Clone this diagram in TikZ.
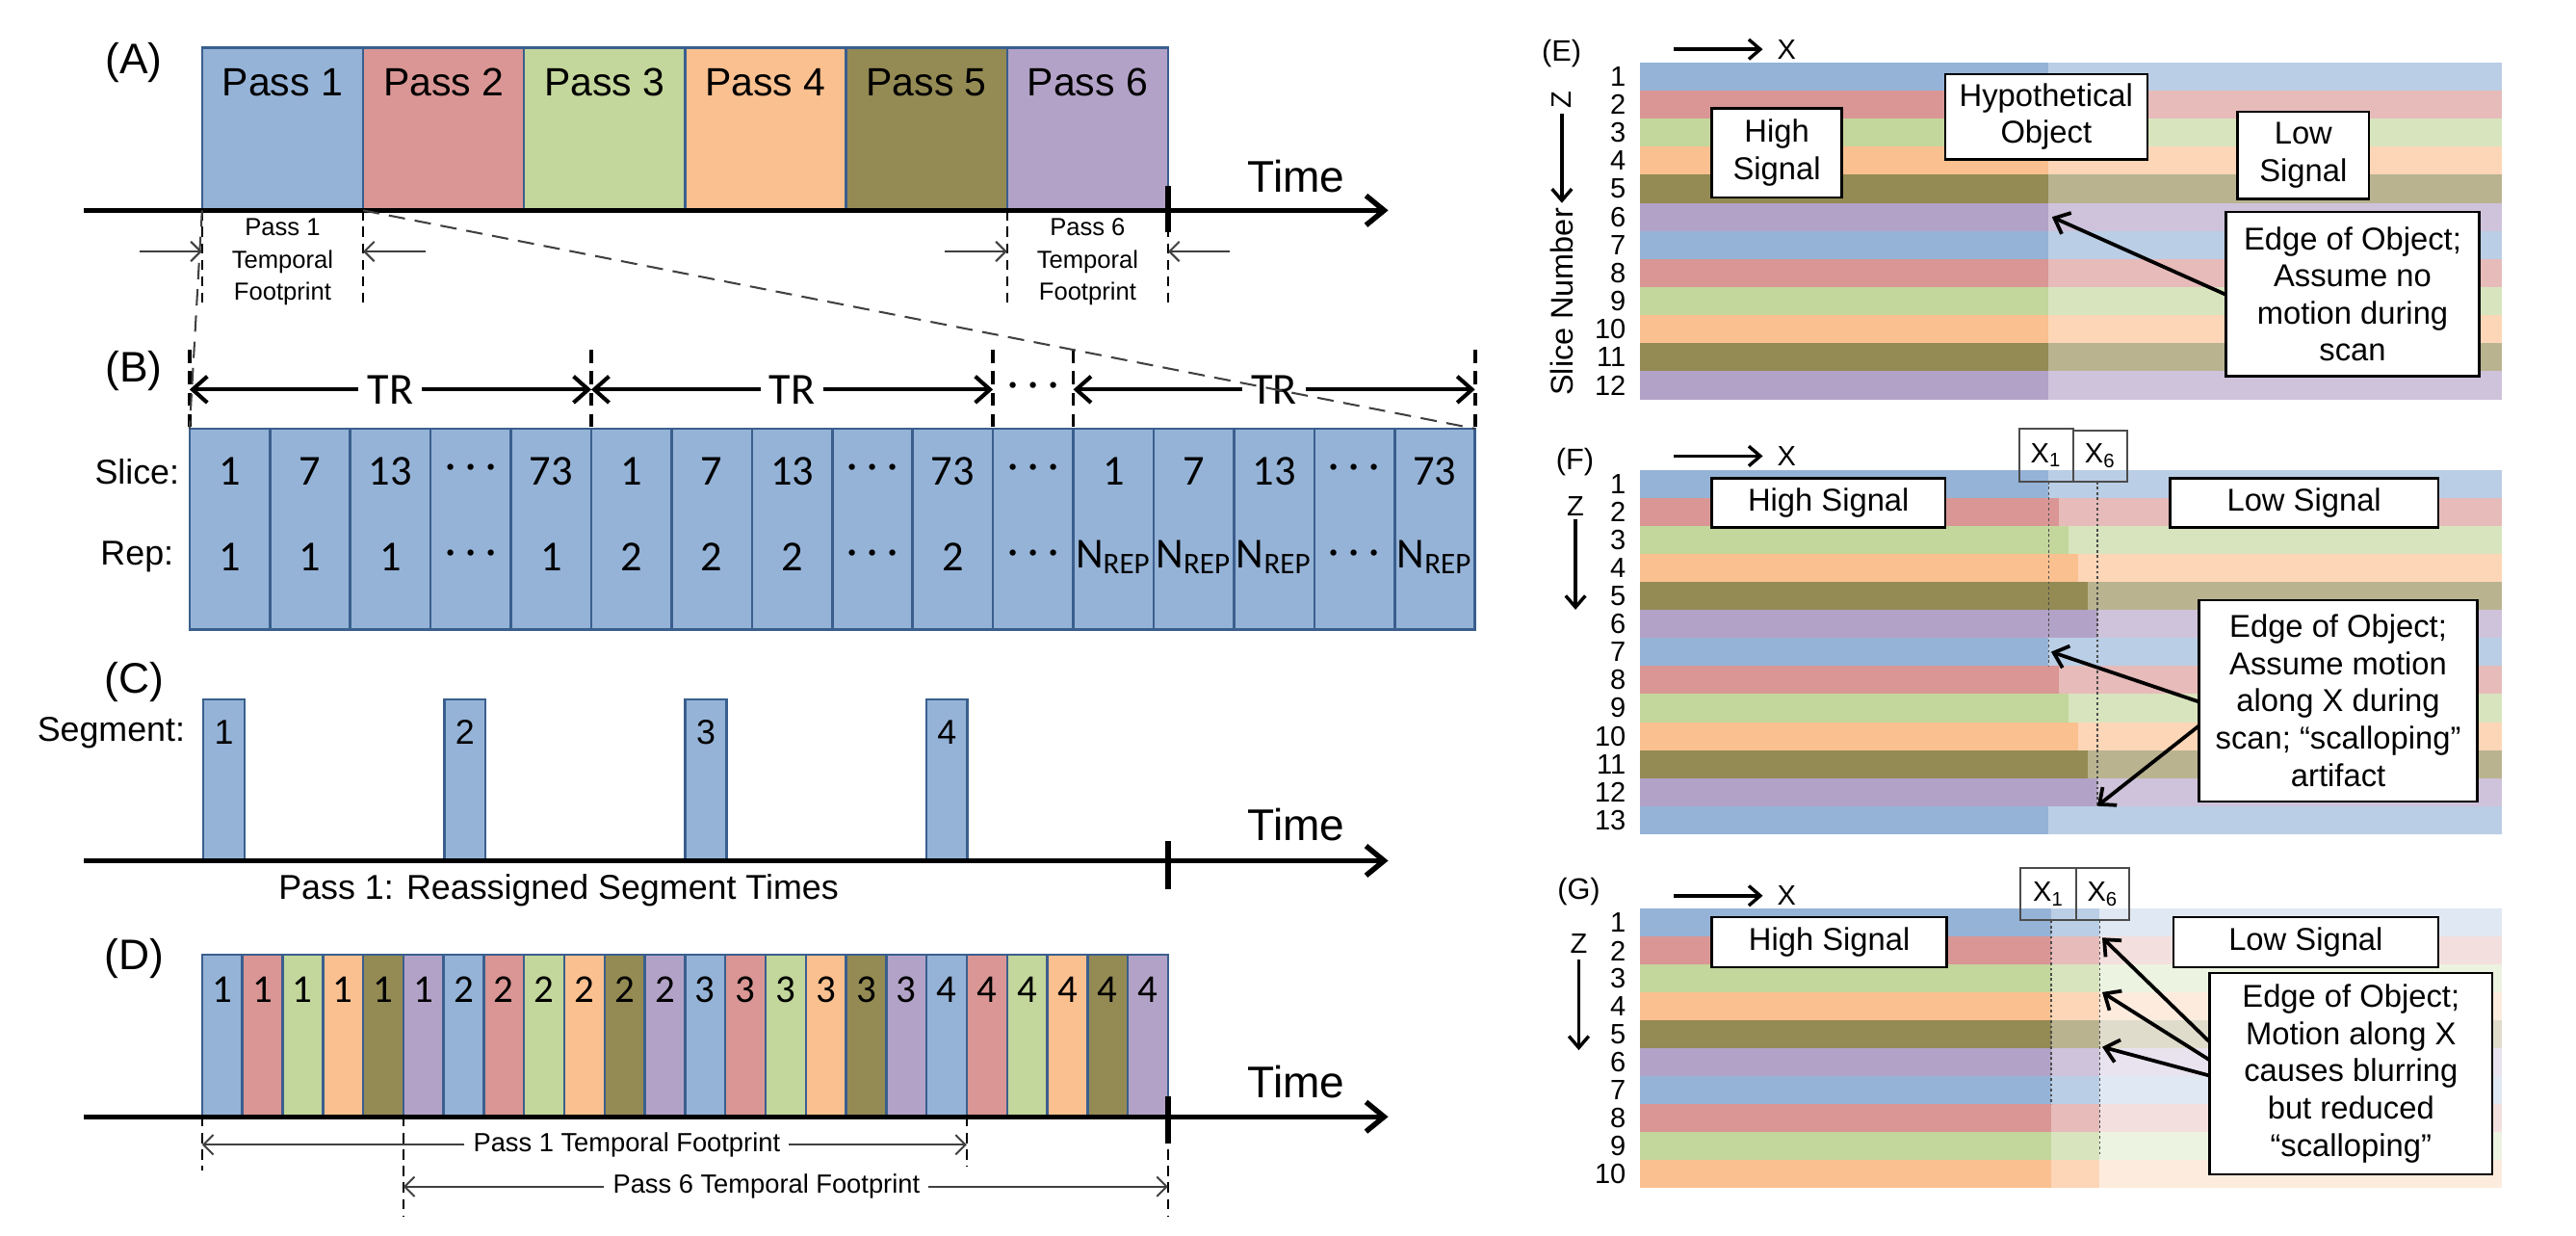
\documentclass[tikz,border=0pt]{standalone}
\usepackage{fontspec}
\setmainfont{Liberation Sans}
\newfontfamily\calib{Carlito}
\usetikzlibrary{arrows.meta}
\definecolor{cBlue}{HTML}{95B3D7}
\definecolor{cRed}{HTML}{D99694}
\definecolor{cGreen}{HTML}{C3D69B}
\definecolor{cOrange}{HTML}{FAC090}
\definecolor{cOlive}{HTML}{948A54}
\definecolor{cPurple}{HTML}{B3A2C7}
\definecolor{bdr}{HTML}{3A5F8E}
\definecolor{fpgray}{HTML}{404040}
\colorlet{col0}{cBlue}
\colorlet{col1}{cRed}
\colorlet{col2}{cGreen}
\colorlet{col3}{cOrange}
\colorlet{col4}{cOlive}
\colorlet{col5}{cPurple}
\newcommand\fsz[2]{\fontsize{#1}{#2}\selectfont}
\newcommand\dts{·\hspace{0.22em}·\hspace{0.22em}·}
\newcommand\nrep{N\textsubscript{REP}}
\tikzset{
  panellbl/.style={font=\fsz{13}{15}, inner sep=0pt},
  rlbl/.style={font=\fsz{9}{11}, inner sep=0pt},
  passtxt/.style={font=\fsz{12}{14}, inner sep=0pt},
  timetxt/.style={font=\fsz{13.5}{16}, inner sep=0pt},
  fptxt/.style={font=\fsz{7.5}{9.8}, align=center, inner sep=0pt},
  fptxtD/.style={font=\fsz{8}{10}, inner sep=2.5pt},
  segtxt/.style={font=\fsz{10.5}{12.6}, inner sep=0pt},
  segnum/.style={font=\fsz{10.5}{12}, inner sep=0pt},
  dnum/.style={font=\calib\fsz{12}{14}, inner sep=0pt},
  cal/.style={font=\calib\fsz{13}{15}, inner sep=0pt},
  trtxt/.style={font=\calib\fsz{13.5}{15}, inner sep=2.5pt},
  rnum/.style={font=\fsz{8.5}{10}, inner sep=0pt},
  rbox/.style={draw=black, line width=0.7pt, fill=white, align=center,
    font=\fsz{9.6}{11.3}, inner sep=0pt},
  xbox/.style={draw=black!70, line width=0.6pt, font=\fsz{8.5}{10}, inner sep=0pt},
  cellbox/.style={draw=bdr, line width=0.75pt},
  axisline/.style={line width=1.6pt, -{Straight Barb[length=5.5pt,width=9pt]}},
  ticklin/.style={line width=1.6pt},
  fpdash/.style={dash pattern=on 3pt off 2pt, line width=0.7pt},
  brdash/.style={dash pattern=on 4pt off 2.5pt, line width=1.1pt},
  zoomdash/.style={dash pattern=on 5pt off 3pt, line width=0.6pt, draw=black!75},
  fparrow/.style={draw=fpgray, line width=0.6pt, -{Straight Barb[length=3pt,width=6pt]}},
  trarrow/.style={line width=1.2pt, -{Straight Barb[length=4.5pt,width=8pt]}},
  rarrow/.style={line width=1.1pt, -{Straight Barb[length=4pt,width=7pt]}},
  xarrow/.style={line width=1pt, -{Straight Barb[length=3.5pt,width=6pt]}},
  dotl/.style={draw=black!70, line width=0.4pt, dash pattern=on 0.8pt off 0.8pt},
}
\begin{document}
\begin{tikzpicture}[x=0.5pt,y=-0.5pt]
\useasboundingbox (0,0) rectangle (1568,751.5);
% ================= (A)
\node[panellbl] (labA) at (81.5,38) {(A)};
\foreach \c [count=\i] in {cBlue,cRed,cGreen,cOrange,cOlive,cPurple}{
  \pgfmathsetmacro\xl{123+(\i-1)*98}
  \draw[cellbox, fill=\c] (\xl,29) rectangle ++(98,99);
  \node[passtxt] (pass\i) at (\xl+49,50) {Pass \i};
}
\coordinate (axAs) at (51,128);
\coordinate (axAe) at (845,128);
\draw[axisline] (axAs) -- (axAe);
\draw[ticklin] (711,113) -- (711,141);
\node[timetxt] (timeA) at (789,107.5) {Time};
\foreach \x in {123,221,613,711} \draw[fpdash] (\x,128) -- (\x,186);
\node[fptxt] (fpA1) at (172,159.5) {Pass 1\\Temporal\\Footprint};
\node[fptxt] (fpA6) at (662,159.5) {Pass 6\\Temporal\\Footprint};
\coordinate (a1s) at (85,153);   \coordinate (a1e) at (123,153);
\coordinate (a2s) at (259,153);  \coordinate (a2e) at (221,153);
\coordinate (a3s) at (575,153);  \coordinate (a3e) at (613,153);
\coordinate (a4s) at (748.5,153);\coordinate (a4e) at (711,153);
\draw[fparrow] (a1s) -- (a1e);
\draw[fparrow] (a2s) -- (a2e);
\draw[fparrow] (a3s) -- (a3e);
\draw[fparrow] (a4s) -- (a4e);
% ================= (B)
\node[panellbl] (labB) at (81.5,225.8) {(B)};
\foreach \i in {0,...,15}{
  \draw[cellbox, fill=cBlue] ({115.4+\i*48.9},260.8) rectangle ({115.4+(\i+1)*48.9},383);
}
\foreach \s [count=\i from 0] in {1,7,13,\dts,73,1,7,13,\dts,73,\dts,1,7,13,\dts,73}{
  \node[cal] (sl\i) at ({139.85+\i*48.9},287) {\s};
}
\foreach \s [count=\i from 0] in {1,1,1,\dts,1,2,2,2,\dts,2,\dts,\nrep,\nrep,\nrep,\dts,\nrep}{
  \node[cal] (rp\i) at ({139.85+\i*48.9},339) {\s};
}
\node[segtxt, anchor=east] (slcL) at (109.5,287) {Slice:};
\node[segtxt, anchor=east] (repL) at (106,339) {Rep:};
\foreach \x [count=\i] in {115.4,359.9,604.4,653.3,897.8}{
  \coordinate (bt\i) at (\x,237);
  \draw[brdash] (\x,212.9) -- (\x,260.8);
}
\node[trtxt] (tr1) at (237.65,237) {TR};
\node[trtxt] (tr2) at (482.15,237) {TR};
\node[trtxt] (tr3) at (775.55,237) {TR};
\node[cal] (bdots) at (628.85,237) {\dts};
\draw[trarrow] (tr1) -- (bt1);
\draw[trarrow] (tr1) -- (bt2);
\draw[trarrow] (tr2) -- (bt2);
\draw[trarrow] (tr2) -- (bt3);
\draw[trarrow] (tr3) -- (bt4);
\draw[trarrow] (tr3) -- (bt5);
% zoom lines
\coordinate (zA1) at (221,128);
\coordinate (zB1) at (897.8,260.8);
\coordinate (zA0) at (123,128);
\coordinate (zB0) at (115.4,260.8);
\draw[zoomdash] (zA1) -- (zB1);
\draw[zoomdash] (zA0) -- (zB0);
% ================= (C)
\node[panellbl] (labC) at (81.5,414.8) {(C)};
\node[segtxt, anchor=east] (segL) at (113,446) {Segment:};
\foreach \x [count=\i] in {123.8,270.5,417.2,563.9}{
  \draw[cellbox, fill=cBlue] (\x,425.6) rectangle ++(25,98.1);
  \node[segnum] (seg\i) at (\x+12.5,445.5) {\i};
}
\coordinate (axCs) at (51,523.7);
\coordinate (axCe) at (845,523.7);
\draw[axisline] (axCs) -- (axCe);
\draw[ticklin] (711,512) -- (711,541);
\node[timetxt] (timeC) at (789,502) {Time};
\node[segtxt] (reass) at (340,542) {Pass 1: Reassigned Segment Times};
% ================= (D)
\node[panellbl] (labD) at (81.5,583) {(D)};
\foreach \i in {1,...,24}{
  \pgfmathtruncatemacro\k{mod(\i-1,6)}
  \pgfmathtruncatemacro\n{div(\i-1,6)+1}
  \pgfmathsetmacro\xl{123+(\i-1)*24.5}
  \draw[cellbox, fill=col\k] (\xl,581) rectangle ++(24.5,98.5);
  \node[dnum] (dn\i) at (\xl+12.25,602) {\n};
}
\coordinate (axDs) at (51,679.5);
\coordinate (axDe) at (845,679.5);
\draw[axisline] (axDs) -- (axDe);
\draw[ticklin] (711,667) -- (711,696);
\node[timetxt] (timeD) at (789,658) {Time};
\draw[fpdash] (123,679.5) -- (123,712);
\draw[fpdash] (245.5,679.5) -- (245.5,740);
\draw[fpdash] (588.5,679.5) -- (588.5,710);
\draw[fpdash] (711,679.5) -- (711,740);
\node[fptxtD] (fpD1) at (381.5,696.5) {Pass 1 Temporal Footprint};
\node[fptxtD] (fpD6) at (466.5,722) {Pass 6 Temporal Footprint};
\coordinate (d1l) at (123,696.5);
\coordinate (d1r) at (588.5,696.5);
\coordinate (d6l) at (245.5,722);
\coordinate (d6r) at (711,722);
\draw[fparrow] (fpD1) -- (d1l);
\draw[fparrow] (fpD1) -- (d1r);
\draw[fparrow] (fpD6) -- (d6l);
\draw[fparrow] (fpD6) -- (d6r);
% ================= (E)
\foreach \i in {1,...,12}{
  \pgfmathtruncatemacro\k{mod(\i-1,6)}
  \pgfmathsetmacro\yt{38+(\i-1)*17.083}
  \pgfmathsetmacro\yb{38+\i*17.083}
  \fill[col\k] (998,\yt) rectangle (1247,\yb);
  \fill[col\k!65!white] (1247,\yt) rectangle (1523,\yb);
  \node[rnum, anchor=east] (En\i) at (990,{(\yt+\yb)/2}) {\i};
}
\node[rlbl] (labE) at (950.5,32.7) {(E)};
\coordinate (eXs) at (1019,30); \coordinate (eXe) at (1073,30);
\draw[xarrow] (eXs) -- (eXe);
\node[rnum] (eX) at (1087.5,30) {X};
\node[rnum, rotate=90] (eZ) at (950.7,60.6) {Z};
\coordinate (eZs) at (950.7,69.4); \coordinate (eZe) at (950.7,123.5);
\draw[xarrow] (eZs) -- (eZe);
\node[font=\fsz{9.5}{11}, rotate=90, inner sep=0pt] (slnum) at (950.7,183.7) {Slice Number};
\node[rbox, minimum width=39.5pt, minimum height=27pt] (highE) at (1081.5,93) {High\\Signal};
\node[rbox, minimum width=61.5pt, minimum height=26pt] (hypE) at (1245.5,71) {Hypothetical\\Object};
\node[rbox, minimum width=40pt, minimum height=26.5pt] (lowE) at (1402,94.5) {Low\\Signal};
\node[rbox, minimum width=77pt, minimum height=50pt] (edgeE) at (1432,179) {Edge of Object;\\Assume no\\motion during\\scan};
\coordinate (eTip) at (1249,132);
\draw[rarrow] (edgeE.west) -- (eTip);
% ================= (F)
\foreach \i in {1,...,13}{
  \pgfmathtruncatemacro\k{mod(\i-1,6)}
  \pgfmathsetmacro\yt{285.8+(\i-1)*17.06}
  \pgfmathsetmacro\yb{285.8+\i*17.06}
  \pgfmathsetmacro\xe{1247+\k*5.92}
  \fill[col\k] (998,\yt) rectangle (\xe,\yb);
  \fill[col\k!65!white] (\xe,\yt) rectangle (1523,\yb);
  \node[rnum, anchor=east] (Fn\i) at (990,{(\yt+\yb)/2}) {\i};
}
\node[rlbl] (labF) at (958.7,280.8) {(F)};
\coordinate (fXs) at (1019,277.5); \coordinate (fXe) at (1073,277.5);
\draw[xarrow] (fXs) -- (fXe);
\node[rnum] (fX) at (1087.5,277.5) {X};
\node[rnum] (fZ) at (959,308) {Z};
\coordinate (fZs) at (959,316); \coordinate (fZe) at (959,371);
\draw[xarrow] (fZs) -- (fZe);
\draw[dotl] (1247,293) -- (1247,405.4);
\draw[dotl] (1276.6,293) -- (1276.6,490);
\node[xbox, minimum width=16.5pt, minimum height=16pt] (x1F) at (1245.5,277) {X\textsubscript{1}};
\node[xbox, minimum width=16.5pt, minimum height=15.5pt] (x6F) at (1278.5,277.5) {X\textsubscript{6}};
\node[rbox, minimum width=71pt, minimum height=15pt] (highF) at (1113,306) {High Signal};
\node[rbox, minimum width=81.5pt, minimum height=15pt] (lowF) at (1402.5,306) {Low Signal};
\node[rbox, minimum width=84.75pt, minimum height=61.25pt] (edgeF) at (1423.25,426.25) {Edge of Object;\\Assume motion\\along X during\\scan; “scalloping”\\artifact};
\coordinate (fs1) at (1338.5,427);   \coordinate (fTip1) at (1248.5,396.6);
\coordinate (fs2) at (1338.5,441.6); \coordinate (fTip2) at (1276.6,490.4);
\draw[rarrow] (fs1) -- (fTip1);
\draw[rarrow] (fs2) -- (fTip2);
% ================= (G)
\foreach \i in {1,...,10}{
  \pgfmathtruncatemacro\k{mod(\i-1,6)}
  \pgfmathsetmacro\yt{553+(\i-1)*17}
  \pgfmathsetmacro\yb{553+\i*17}
  \fill[col\k] (998,\yt) rectangle (1248.5,\yb);
  \fill[col\k!65!white] (1248.5,\yt) rectangle (1278,\yb);
  \fill[col\k!30!white] (1278,\yt) rectangle (1523,\yb);
  \node[rnum, anchor=east] (Gn\i) at (990,{(\yt+\yb)/2}) {\i};
}
\node[rlbl] (labG) at (961,542.6) {(G)};
\coordinate (gXs) at (1019,545); \coordinate (gXe) at (1073,545);
\draw[xarrow] (gXs) -- (gXe);
\node[rnum] (gX) at (1087.5,545) {X};
\node[rnum] (gZ) at (961,574) {Z};
\coordinate (gZs) at (961,584); \coordinate (gZe) at (961,639);
\draw[xarrow] (gZs) -- (gZe);
\draw[dotl] (1248.5,560) -- (1248.5,672);
\draw[dotl] (1278,560) -- (1278,704);
\node[xbox, minimum width=17pt, minimum height=16pt] (x1G) at (1247,544) {X\textsubscript{1}};
\node[xbox, minimum width=16pt, minimum height=16pt] (x6G) at (1280,544) {X\textsubscript{6}};
\node[rbox, minimum width=71.5pt, minimum height=15.25pt] (highG) at (1113.5,573.25) {High Signal};
\node[rbox, minimum width=80.5pt, minimum height=15.25pt] (lowG) at (1403.5,573.25) {Low Signal};
\node[rbox, minimum width=86pt, minimum height=61.25pt] (edgeG) at (1431,653.25) {Edge of Object;\\Motion along X\\causes blurring\\but reduced\\“scalloping”};
\coordinate (gs1) at (1345,634);   \coordinate (gTip1) at (1279.6,570.5);
\coordinate (gs2) at (1345,645);   \coordinate (gTip2) at (1279.6,603.7);
\coordinate (gs3) at (1345,654.5); \coordinate (gTip3) at (1279.6,637);
\draw[rarrow] (gs1) -- (gTip1);
\draw[rarrow] (gs2) -- (gTip2);
\draw[rarrow] (gs3) -- (gTip3);
\end{tikzpicture}
\end{document}
